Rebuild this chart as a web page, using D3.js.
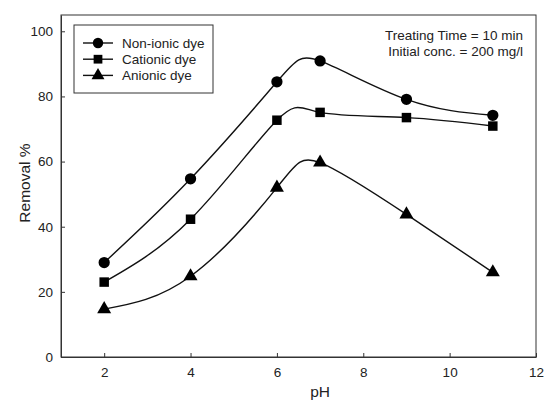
<!DOCTYPE html>
<html><head><meta charset="utf-8">
<script src="https://cdn.jsdelivr.net/npm/d3@7"></script>
<style>body{margin:0;background:#fff;} text{font-family:"Liberation Sans",Arial,sans-serif;}</style>
</head><body>
<svg id="chart" width="553" height="401"></svg>
<script>
const pH = [2, 4, 6, 7, 9, 11];
const nonIonic = [29.0, 54.7, 84.5, 90.9, 79.1, 74.2];
const cationic = [23.0, 42.3, 72.7, 75.1, 73.5, 70.9];
const anionic = [14.7, 24.8, 52.0, 59.7, 43.8, 26.0];
const seriesNames = ["Non-ionic dye", "Cationic dye", "Anionic dye"];
const xTicks = [2, 4, 6, 8, 10, 12];
const yTicks = [0, 20, 40, 60, 80, 100];
const noteLines = ["Treating Time = 10 min", "Initial conc. = 200 mg/l"];

const svg = d3.select("#chart");
const L = 61, R = 536, T = 15, B = 357;
const x = d3.scaleLinear().domain([1, 12]).range([L, R]);
const y = d3.scaleLinear().domain([0, 105]).range([B, T]);

svg.append("rect").attr("x", L).attr("y", T).attr("width", R - L).attr("height", B - T)
  .attr("fill", "none").attr("stroke", "#333").attr("stroke-width", 1);

const xAxis = svg.append("g").attr("transform", `translate(0,${B})`)
  .call(d3.axisBottom(x).tickValues(xTicks).tickSizeInner(-4).tickSizeOuter(0).tickPadding(10));
const yAxis = svg.append("g").attr("transform", `translate(${L},0)`)
  .call(d3.axisLeft(y).tickValues(yTicks).tickSizeInner(-4).tickSizeOuter(0).tickPadding(8));
[xAxis, yAxis].forEach(g => {
  g.select(".domain").attr("stroke", "#333");
  g.selectAll(".tick line").attr("stroke", "#333");
  g.selectAll(".tick text").attr("font-size", 13.5).attr("fill", "#222")
    .attr("font-family", "Liberation Sans, Arial, sans-serif");
});

svg.append("text").attr("x", x(7)).attr("y", 397).attr("text-anchor", "middle")
  .attr("font-size", 15.5).attr("fill", "#222").text("pH");
svg.append("text").attr("transform", `translate(30,183) rotate(-90)`).attr("text-anchor", "middle")
  .attr("font-size", 15.5).attr("fill", "#222").text("Removal %");

const data = [nonIonic, cationic, anionic];
const shapes = [d3.symbolCircle, d3.symbolSquare, d3.symbolTriangle];
const sizes = [100, 90, 85];
const line = d3.line().x((d, i) => x(pH[i])).y(d => y(d)).curve(d3.curveNatural);

data.forEach((vals, k) => {
  svg.append("path").attr("d", line(vals)).attr("fill", "none")
    .attr("stroke", "#111").attr("stroke-width", 1.4);
  svg.selectAll(null).data(vals).enter().append("path")
    .attr("d", d3.symbol().type(shapes[k]).size(sizes[k]))
    .attr("transform", (d, i) => `translate(${x(pH[i])},${y(d)})`)
    .attr("fill", "#000");
});

const lg = svg.append("g");
lg.append("rect").attr("x", 74).attr("y", 25).attr("width", 139).attr("height", 68)
  .attr("fill", "#fff").attr("stroke", "#333");
seriesNames.forEach((name, k) => {
  const yy = 43 + k * 16.2;
  lg.append("line").attr("x1", 83).attr("x2", 113).attr("y1", yy).attr("y2", yy)
    .attr("stroke", "#111").attr("stroke-width", 1.4);
  lg.append("path").attr("d", d3.symbol().type(shapes[k]).size(sizes[k] * 0.85))
    .attr("transform", `translate(98,${yy})`).attr("fill", "#000");
  lg.append("text").attr("x", 122).attr("y", yy + 5).attr("font-size", 13.5)
    .attr("fill", "#222").text(name);
});

noteLines.forEach((t, i) => {
  svg.append("text").attr("x", 523).attr("y", 40 + i * 16).attr("text-anchor", "end")
    .attr("font-size", 13.5).attr("fill", "#222").text(t);
});
</script>
</body></html>
